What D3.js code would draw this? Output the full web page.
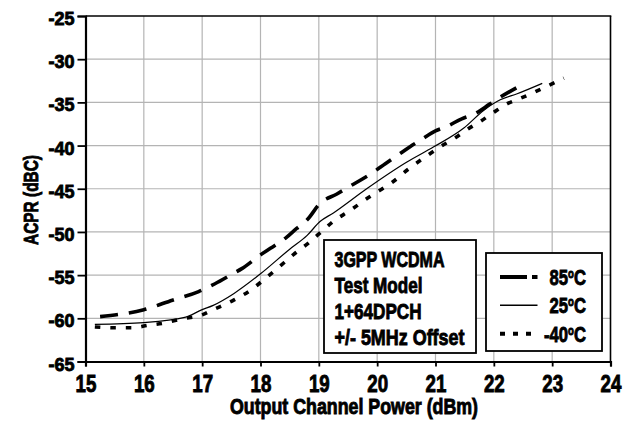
<!DOCTYPE html>
<html><head><meta charset="utf-8">
<script src="https://cdn.jsdelivr.net/npm/d3@7/dist/d3.min.js"></script>
<style>
html,body{margin:0;padding:0;background:#fff;}
svg text{font-family:'Liberation Sans',Arial,sans-serif;font-weight:bold;fill:#000;stroke:#000;stroke-width:0.9px;}
</style></head>
<body>
<svg id="c" width="633" height="421"></svg>
<script>
// ---- data ----
const xTicks = [15,16,17,18,19,20,21,22,23,24];
const yTicks = [-65,-60,-55,-50,-45,-40,-35,-30,-25];
const x85 = [15.25,16.0,16.49,16.94,17.22,17.51,17.68,17.99,18.17,18.45,18.62,18.8,19.02,19.31,19.51,19.94,20.14,20.4,20.57,20.74,21.0,21.19,21.45,21.65,21.93,22.11,22.39];
const y85 = [-59.8,-59.0,-57.9,-56.9,-56.0,-54.9,-54.25,-52.7,-51.9,-50.6,-49.6,-48.6,-46.7,-45.6,-44.8,-43.05,-42.1,-40.9,-40.1,-39.4,-38.3,-37.8,-36.9,-36.4,-35.2,-34.4,-33.3];
const x25 = [15.16,16.0,16.7,17.0,17.19,17.54,18.0,18.5,18.8,19.02,19.25,19.82,20.51,20.97,21.48,21.83,22.11,22.4,22.83];
const y25 = [-60.7,-60.5,-59.9,-59.0,-58.5,-57.15,-54.85,-52.0,-50.4,-48.8,-47.8,-45.0,-41.9,-40.15,-38.0,-35.9,-34.7,-34.0,-32.8];
const xm40 = [15.16,15.5,15.8,16.08,16.35,16.63,17.0,17.19,17.54,17.85,18.08,18.31,18.57,18.81,19.04,19.25,19.54,19.8,20.04,20.25,20.54,20.85,21.08,21.34,21.53,21.77,22.01,22.25,22.41,22.67,22.92,23.2];
const ym40 = [-61.0,-61.1,-61.1,-60.8,-60.55,-60.1,-59.6,-59.0,-57.9,-56.65,-55.4,-54.1,-52.6,-51.35,-50.0,-48.77,-47.5,-46.25,-45.2,-44.3,-42.7,-41.2,-40.15,-39.1,-38.2,-37.2,-36.1,-35.1,-34.66,-33.9,-33.1,-32.2];
const seriesNames = ["85", "25", "-40"];
const boxLines = ["3GPP WCDMA","Test Model","1+64DPCH","+/- 5MHz Offset"];
const xTitle = "Output Channel Power (dBm)";
const yTitle = "ACPR (dBC)";

// ---- layout ----
const svg = d3.select("#c");
const L = 85.5, R = 610.5, T = 16, B = 361.5;
const x = d3.scaleLinear().domain([15,24]).range([L,R]);
const y = d3.scaleLinear().domain([-65,-25]).range([B,T]);
const squeeze = (sel, f) => sel.each(function(){
  const w = this.getComputedTextLength();
  d3.select(this).attr("textLength", w*f).attr("lengthAdjust","spacingAndGlyphs");
});
const fitW = (sel, w) => sel.attr("textLength", w).attr("lengthAdjust","spacingAndGlyphs");

// grid
svg.append("g").selectAll("line").data(xTicks.slice(1,-1)).join("line")
  .attr("x1",d=>x(d)).attr("x2",d=>x(d)).attr("y1",T).attr("y2",B)
  .attr("stroke","#b4b4b4").attr("stroke-width",1.2);
svg.append("g").selectAll("line").data(yTicks.slice(1,-1)).join("line")
  .attr("y1",d=>y(d)).attr("y2",d=>y(d)).attr("x1",L).attr("x2",R)
  .attr("stroke","#b4b4b4").attr("stroke-width",1.2);

// frame top/right
svg.append("line").attr("x1",L).attr("x2",R+0.8).attr("y1",T).attr("y2",T).attr("stroke","#000").attr("stroke-width",1.6);
svg.append("line").attr("x1",R).attr("x2",R).attr("y1",T).attr("y2",B).attr("stroke","#000").attr("stroke-width",1.6);

// axes
const fmt = d => String(d);
const gx = svg.append("g").attr("transform",`translate(0,${B})`)
  .call(d3.axisBottom(x).tickValues(xTicks).tickSize(5).tickPadding(8.5).tickFormat(fmt));
const gy = svg.append("g").attr("transform",`translate(${L},0)`)
  .call(d3.axisLeft(y).tickValues(yTicks).tickSize(8).tickPadding(3).tickFormat(fmt));
[gx,gy].forEach(g=>{
  g.attr("font-family",null).attr("font-size",null);
  g.select(".domain").attr("stroke","#000").attr("stroke-width",2.2);
  g.selectAll(".tick line").attr("stroke","#000").attr("stroke-width",1.8);
});
gx.selectAll("text").style("font-size","24px").attr("dy","0.72em");
squeeze(gx.selectAll("text"), 0.78);
gy.selectAll("text").style("font-size","19px").attr("dy","0.45em");
fitW(gy.selectAll("text"), 26);

// titles
fitW(svg.append("text").attr("x",354).attr("y",414).attr("text-anchor","middle").style("font-size","21.5px").text(xTitle), 248);
fitW(svg.append("text").attr("transform","translate(38,200) rotate(-90)").attr("text-anchor","middle").style("font-size","21px").text(yTitle), 90);

// lines
const styles = {
  "85": {w:3.6, dash:"18,11", ldash:"27,5,6,200"},
  "25": {w:1.2, dash:null, ldash:null},
  "-40": {w:3.6, dash:"5.5,10", ldash:"5,8"}
};
const series = [
  {name:seriesNames[0], xs:x85, ys:y85},
  {name:seriesNames[1], xs:x25, ys:y25},
  {name:seriesNames[2], xs:xm40, ys:ym40}
];
const line = d3.line().x(d=>x(d[0])).y(d=>y(d[1])).curve(d3.curveMonotoneX);
series.forEach(s=>{
  const pts = s.xs.map((v,i)=>[v,s.ys[i]]);
  svg.append("path").attr("d",line(pts)).attr("fill","none").attr("stroke","#000")
    .attr("stroke-width",styles[s.name].w).attr("stroke-dasharray",styles[s.name].dash);
});

// text box
svg.append("rect").attr("x",324).attr("y",240).attr("width",152).attr("height",113)
  .attr("fill","#fff").attr("stroke","#000").attr("stroke-width",1.8);
const boxW = [110,88,87,130];
boxLines.forEach((t,i)=>{
  fitW(svg.append("text").attr("x",334.5).attr("y",266.5+i*26.2).style("font-size","22.5px").text(t), boxW[i]);
});

// legend
svg.append("rect").attr("x",486).attr("y",253).attr("width",116).attr("height",98)
  .attr("fill","#fff").attr("stroke","#000").attr("stroke-width",1.8);
const legBase = [285,313.3,341.7];
series.forEach((s,i)=>{
  svg.append("line").attr("x1",500).attr("x2",537.5).attr("y1",legBase[i]-8).attr("y2",legBase[i]-8)
    .attr("stroke","#000").attr("stroke-width",styles[s.name].w+0.3).attr("stroke-dasharray",styles[s.name].ldash);
  const g = svg.append("g").attr("transform",`translate(586,${legBase[i]}) scale(0.74,1)`);
  const t = g.append("text").attr("text-anchor","end").style("font-size","22.5px");
  t.append("tspan").text(s.name);
  t.append("tspan").attr("dy","-7").style("font-size","13px").text("o");
  t.append("tspan").attr("dy","7").text("C");
});
</script>
</body></html>
